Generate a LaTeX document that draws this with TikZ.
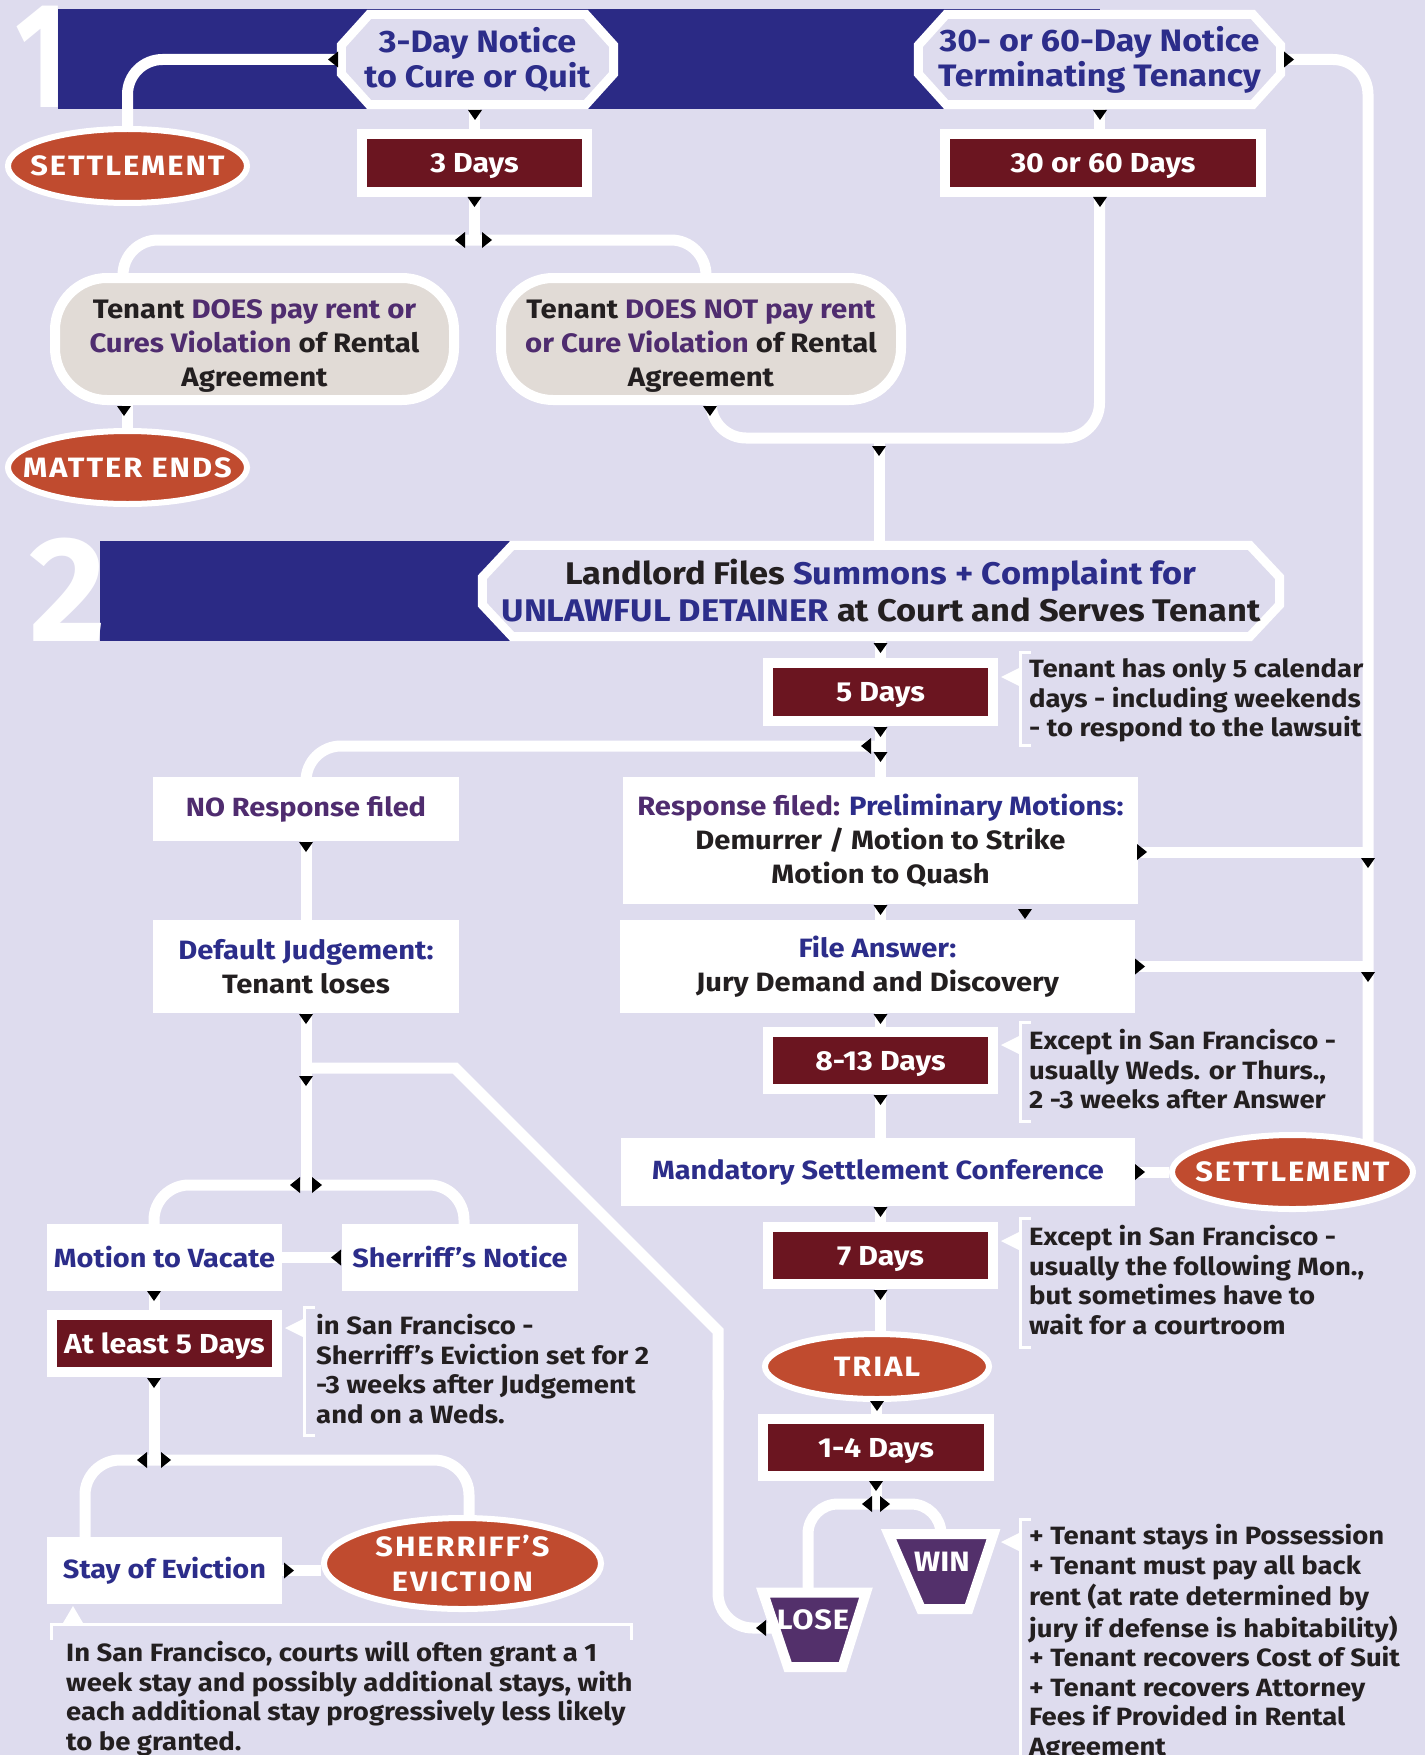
\documentclass[tikz,border=0pt]{standalone}
\usepackage{graphicx}
\usepackage{fontspec}
\setmainfont{Fira Sans}[FakeStretch=1.1]
\usetikzlibrary{shapes.geometric,calc}
\definecolor{bgc}{HTML}{DEDCEE}
\definecolor{band}{HTML}{2B2A85}
\definecolor{navy}{HTML}{2C2D8A}
\definecolor{purp}{HTML}{4F2C6F}
\definecolor{tblack}{HTML}{231F20}
\definecolor{dred}{HTML}{6B1520}
\definecolor{orng}{HTML}{C04B2F}
\definecolor{beigec}{HTML}{E1DBD6}
\definecolor{trap}{HTML}{53306B}
\pgfdeclarelayer{bg}\pgfdeclarelayer{lines}\pgfdeclarelayer{shapes}
\pgfsetlayers{bg,lines,shapes,main}
\newcommand\fsz[2]{\fontsize{#1}{#2}\selectfont\bfseries}
\newcommand\st{\rule[-.3\baselineskip]{0pt}{\baselineskip}}
\newcommand\trid[1]{\fill[black,shift={(#1)}] (-7,0) -- (7,0) -- (0,10) -- cycle;}
\newcommand\tril[1]{\fill[black,shift={(#1)}] (0,0) -- (10,-8) -- (10,8) -- cycle;}
\newcommand\trir[1]{\fill[black,shift={(#1)}] (0,0) -- (-10,-8) -- (-10,8) -- cycle;}
\newcommand\octpath[3]{\path[octs] ($(#1.north west)+(#2,0)$) -- ($(#1.north east)+(-#2,0)$) -- ($(#1.north east)+(0,#3)$) -- ($(#1.south east)+(0,-#3)$) -- ($(#1.south east)+(-#2,0)$) -- ($(#1.south west)+(#2,0)$) -- ($(#1.south west)+(0,-#3)$) -- ($(#1.north west)+(0,#3)$) -- cycle;}
\begin{document}
\begin{tikzpicture}[x=1pt,y=-1pt,
 conn/.style={draw=white,line width=11pt},
 octs/.style={fill=bgc,draw=white,line width=9pt,line join=miter},
 oct/.style={rectangle,inner sep=0,align=center,text=navy,font=\fsz{31}{35}},
 dayb/.style={rectangle,fill=dred,draw=white,line width=10pt,inner sep=0,text=white,text depth=0pt,font=\fsz{27.5}{32}},
 wbox/.style={rectangle,fill=white,inner sep=0,align=center,text=tblack,font=\fsz{26.5}{34}},
 wbox1/.style={wbox,text=navy,font=\fsz{26.3}{32}},
 bbox/.style={rectangle,rounded corners=52,fill=beigec,draw=white,line width=10pt,inner sep=0},
 btxt/.style={inner sep=0,align=center,text=tblack,font=\fsz{26.7}{34}},
 oval/.style={ellipse,fill=orng,draw=white,line width=6pt,inner sep=0},
 ovt/.style={inner sep=0,align=center,text=white,font={\fsz{28}{35}\addfontfeature{LetterSpace=7}}},
 trt/.style={inner sep=0,text=white,font=\fsz{28}{32}},
 trapz/.style={fill=trap,draw=white,line width=10pt,line join=miter},
 note/.style={anchor=north west,inner sep=0,align=left,text=tblack,font=\fsz{25}{29.5}},
 brk/.style={draw=white,line width=3pt},
 bigd/.style={inner sep=0,text=white,font=\fsz{150}{150},anchor=base east}]
\useasboundingbox (0,0) rectangle (1425,1755);
\begin{pgfonlayer}{bg}
\fill[bgc] (0,0) rectangle (1425,1755);
\fill[band] (58,9) rectangle (1100,109);
\fill[band] (100,541) rectangle (881,641);
\end{pgfonlayer}
\node[bigd] (one) at (68,108) {\scalebox{0.68}[1]{1}};
\node[bigd] (two) at (106,641) {\scalebox{0.9}[1]{2}};
% section 1
\node[oct,minimum width=272,minimum height=90] (oct1) at (477.5,59.5) {3-Day Notice\\to Cure or Quit};
\node[oct,minimum width=362,minimum height=90] (oct3060) at (1099.5,59.5) {30- or 60-Day Notice\\Terminating Tenancy};
\node[dayb,minimum width=225,minimum height=58] (d3) at (474.5,163) {3 Days};
\node[dayb,minimum width=316,minimum height=58] (d3060) at (1103,163) {30 or 60 Days};
\node[oval,minimum width=239,minimum height=74] (settle1) at (127.5,166) {};
\node[ovt] (settle1t) at (settle1) {SETTLEMENT};
\node[bbox,minimum width=399,minimum height=122] (beigeL) at (254.5,339) {};
\node[btxt] (beigeLt) at ($(beigeL)+(0,7)$) {Tenant \textcolor{purp}{DOES pay rent or}\\\textcolor{purp}{Cures Violation} of Rental\\Agreement};
\node[bbox,minimum width=400,minimum height=122] (beigeR) at (701,339) {};
\node[btxt] (beigeRt) at ($(beigeR)+(0,7)$) {Tenant \textcolor{purp}{DOES NOT pay rent}\\\textcolor{purp}{or Cure Violation} of Rental\\Agreement};
\node[oval,minimum width=239,minimum height=73] (matter) at (127.5,467.5) {};
\node[ovt] (mattert) at (matter) {MATTER ENDS};
% section 2
\node[oct,minimum width=797,minimum height=91,text=tblack,font=\fsz{31.3}{37}] (oct2) at (881,591) {Landlord Files \textcolor{navy}{Summons + Complaint for}\\\textcolor{navy}{UNLAWFUL DETAINER} at Court and Serves Tenant};
\node[dayb,minimum width=225,minimum height=58] (d5) at (880.5,692) {5 Days};
\node[wbox1,minimum width=306,minimum height=64,text=purp] (noresp) at (306,809) {NO Response filed};
\node[wbox,minimum width=515,minimum height=127] (resp) at (880.5,840.5) {\textcolor{purp}{Response filed:} \textcolor{navy}{Preliminary Motions:}\\Demurrer / Motion to Strike\\Motion to Quash};
\node[wbox,minimum width=306,minimum height=93] (deflt) at (306,966.5) {\textcolor{navy}{Default Judgement:}\\Tenant loses};
\node[wbox,minimum width=515,minimum height=93] (answer) at (877.5,966.5) {\textcolor{navy}{File Answer:}\\Jury Demand and Discovery};
\node[dayb,minimum width=225,minimum height=57] (d813) at (880.5,1060.5) {8-13 Days};
\node[wbox1,minimum width=514,minimum height=68] (msc) at (878,1172) {Mandatory Settlement Conference};
\node[oval,minimum width=241,minimum height=74] (settle2) at (1292.5,1172) {};
\node[ovt] (settle2t) at (settle2) {SETTLEMENT};
\node[dayb,minimum width=225,minimum height=57] (d7) at (880.5,1255.5) {7 Days};
\node[oval,minimum width=224,minimum height=65] (trial) at (877,1366.5) {};
\node[ovt] (trialt) at (trial) {TRIAL};
\node[dayb,minimum width=226,minimum height=57] (d14) at (876,1447.5) {1-4 Days};
\node[trt] (win) at (942,1562) {WIN};
\node[trt,font={\fsz{28}{32}\addfontfeature{LetterSpace=3}}] (lose) at (813,1620) {LOSE};
\node[wbox1,minimum width=235,minimum height=67] (vacate) at (164.5,1257.5) {Motion to Vacate};
\node[wbox1,minimum width=236,minimum height=67] (shnot) at (460,1257.5) {Sherriff’s Notice};
\node[dayb,minimum width=225,minimum height=57] (d5l) at (164.5,1343.5) {At least 5 Days};
\node[wbox1,minimum width=235,minimum height=67] (stay) at (164.5,1570.5) {Stay of Eviction};
\node[oval,minimum width=277,minimum height=91] (shev) at (462.5,1563.5) {};
\node[ovt] (shevt) at (shev) {SHERRIFF’S\\EVICTION};
% notes
\node[note] (n1) at (1029,657) {\st Tenant has only 5 calendar\\\st days - including weekends\\\st - to respond to the lawsuit};
\node[note] (n2) at (1029,1029) {\st Except in San Francisco -\\\st usually Weds. or Thurs.,\\\st 2 -3 weeks after Answer};
\node[note] (n3) at (1029,1225) {\st Except in San Francisco -\\\st usually the following Mon.,\\\st but sometimes have to\\\st wait for a courtroom};
\node[note] (n4) at (1029,1524) {\st + Tenant stays in Possession\\\st + Tenant must pay all back\\\st rent (at rate determined by\\\st jury if defense is habitability)\\\st + Tenant recovers Cost of Suit\\\st + Tenant recovers Attorney\\\st Fees if Provided in Rental\\\st Agreement};
\node[note] (n5) at (316,1314) {\st in San Francisco -\\\st Sherriff’s Eviction set for 2\\\st -3 weeks after Judgement\\\st and on a Weds.};
\node[note] (n6) at (66,1641) {\st In San Francisco, courts will often grant a 1\\\st week stay and possibly additional stays, with\\\st each additional stay progressively less likely\\\st to be granted.};
% shapes
\begin{pgfonlayer}{shapes}
\octpath{oct1}{28}{31}
\octpath{oct3060}{28}{31}
\octpath{oct2}{30}{32}
\path[trapz] (888.5,1534) -- (993.5,1534) -- (968.5,1609) -- (921,1609) -- cycle;
\path[trapz] (763,1592.5) -- (866,1592.5) -- (842.5,1667) -- (788,1667) -- cycle;
\end{pgfonlayer}
% connectors
\begin{pgfonlayer}{lines}
\draw[conn,rounded corners=35] (oct1.west) -| (settle1.north);
\draw[conn] (oct1.south -| d3.north) -- (d3.north);
\coordinate (j1) at (474.5,240);
\draw[conn] (d3.south) -- (j1);
\coordinate (bLt) at (123,300); \coordinate (bRt) at (706,300);
\draw[conn,rounded corners=35] (bLt) |- (j1) -| (bRt);
\draw[conn] (beigeL.south -| matter.north) -- (matter.north);
\coordinate (bRb) at (711,380);
\coordinate (j2) at (879,438);
\draw[conn,rounded corners=35] (bRb) |- (j2) -| (oct3060.south |- d3060.south);
\draw[conn] (j2) -- (j2 |- oct2.north);
\draw[conn] (oct3060.south) -- (oct3060.south |- d3060.north);
\coordinate (rvb) at (1368,1150);
\draw[conn,rounded corners=35] (oct3060.east) -| (rvb);
\draw[conn] (d5.north |- oct2.south) -- (d5.north);
\draw[conn] (d5.south) -- (resp.north);
\coordinate (j3) at (880.5,746);
\draw[conn,rounded corners=35] (j3) -| (noresp.north);
\draw[conn] (noresp.south) -- (deflt.north);
\coordinate (j4) at (306,1185);
\draw[conn] (deflt.south) -- (j4);
\coordinate (vt) at (154,1240); \coordinate (snt) at (464,1240);
\draw[conn,rounded corners=35] (vt) |- (j4) -| (snt);
\coordinate (j5) at (306,1068); \coordinate (dg1) at (455,1068); \coordinate (dg2) at (718,1331);
\draw[conn,line join=miter] (j5) -- (dg1) -- (dg2) -- (718,1400);
\coordinate (lc) at (718,1628); \coordinate (loseL) at (780,1628);
\draw[conn,rounded corners=35] (718,1390) -- (lc) -- (loseL);
\draw[conn] (shnot.west) -- (vacate.east);
\draw[conn] ($(vacate.south)+(-10.5,0)$) -- ($(d5l.north)+(-10.5,0)$);
\coordinate (j6) at (154,1460);
\draw[conn] ($(d5l.south)+(-10.5,0)$) -- (j6);
\coordinate (stt) at (85,1560); \coordinate (sht) at (469,1540);
\draw[conn,rounded corners=35] (stt) |- (j6) -| (sht);
\draw[conn] (stay.east) -- (stay.east -| shev.west);
\draw[conn] (resp.south) -- (resp.south |- answer.north);
\draw[conn] (d813.north |- answer.south) -- (d813.north);
\draw[conn] (d813.south) -- (d813.south |- msc.north);
\draw[conn] (msc.east) -- (settle2.west);
\draw[conn] (d7.north |- msc.south) -- (d7.north);
\draw[conn] (d7.south) -- (d7.south |- trial.north);
\draw[conn] (d14.north |- trial.south) -- (d14.north);
\coordinate (j7) at (876,1504);
\draw[conn] (d14.south) -- (j7);
\coordinate (lt) at (808,1610); \coordinate (wt) at (941,1550);
\draw[conn,rounded corners=30] (lt) |- (j7) -| (wt);
\draw[conn] ($(resp.east)+(0,11.5)$) -- (1368,852);
\draw[conn] (answer.east) -- (1368,966.5);
\end{pgfonlayer}
% brackets
\draw[brk] (1031,652) -- (1020,652) -- (1020,745) -- (1031,745);
\fill[white] (1019,668) -- (1001,677) -- (1019,686) -- cycle;
\draw[brk] (1031,1022) -- (1020,1022) -- (1020,1121) -- (1031,1121);
\fill[white] (1019,1036) -- (1001,1045) -- (1019,1054) -- cycle;
\draw[brk] (1031,1218) -- (1020,1218) -- (1020,1347) -- (1031,1347);
\fill[white] (1019,1232) -- (1001,1241) -- (1019,1250) -- cycle;
\draw[brk] (1031,1519) -- (1020,1519) -- (1020,1760);
\fill[white] (1019,1533) -- (1001,1542) -- (1019,1551) -- cycle;
\draw[brk] (315,1307) -- (304,1307) -- (304,1435) -- (315,1435);
\fill[white] (303,1319) -- (285,1328) -- (303,1337) -- cycle;
\draw[brk] (51,1640) -- (51,1624) -- (631,1624) -- (631,1640);
\fill[white] (63,1623) -- (73,1606) -- (83,1623) -- cycle;
% arrowheads
\trid{475,110} \trid{1100,110} \trid{474.5,197} \trid{1100,197}
\trid{124,406} \trid{710,406} \trid{879,446}
\trid{880.5,643} \trid{880.5,727} \trid{880.5,752} \tril{861,746}
\trid{306,842} \trid{306,1014} \trid{306,1076}
\trid{880.5,905} \trid{1025,909} \trid{1368,858} \trid{1368,972}
\trid{880.5,1014} \trid{880.5,1095} \trid{880.5,1207} \trid{880.5,1290}
\trid{877,1401} \trid{876,1481}
\trid{154,1291} \trid{154,1378}
\tril{455,240} \trir{492,240}
\tril{328,59.5} \trir{1294,59.5}
\tril{290,1185} \trir{322,1185}
\tril{331,1257.5}
\tril{137,1460} \trir{171,1460}
\trir{294,1570.5}
\trir{1147,852} \trir{1145,966.5} \trir{1145,1172}
\tril{862,1504} \trir{890,1504}
\tril{756,1628}
\end{tikzpicture}
\end{document}
